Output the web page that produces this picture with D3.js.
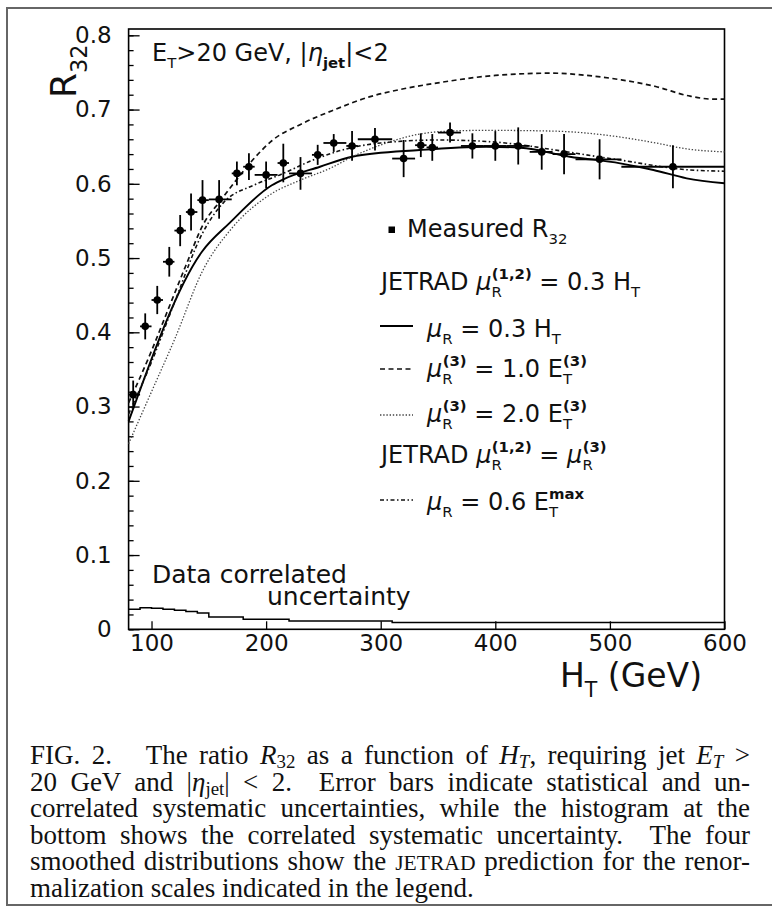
<!DOCTYPE html>
<html>
<head>
<meta charset="utf-8">
<script src="https://cdn.jsdelivr.net/npm/d3@7"></script>
<style>
  body { margin: 0; background: #fff; }
  #wrap { position: relative; width: 772px; height: 907px; }
  svg { position: absolute; left: 0; top: 0; font-family: "DejaVu Sans", sans-serif; }
  .cap { position: absolute; left: 30px; width: 720px; font-family: "Liberation Serif", serif;
         font-size: 27px; line-height: 26.6px; color: #111; text-align: justify; white-space: nowrap; }
  .cap.j { text-align-last: justify; }
  .cap sub { font-size: 0.7em; vertical-align: -0.22em; line-height: 0; }
  .cap .sc { font-size: 0.8em; }
</style>
</head>
<body>
<div id="wrap"></div>
<script>
// Measured R32 points: HT bin mean, value, error, bin edges
var ptHT  = [84, 94.5, 105, 115.5, 125, 134.5, 144.5, 159, 174.5, 185, 200, 215, 230, 245,
             259, 275, 295, 320, 335, 345, 360.5, 380, 400, 420, 440.5, 460, 491, 555];
var ptR32 = [0.316, 0.408, 0.4435, 0.495, 0.537, 0.562, 0.578, 0.579, 0.614, 0.623, 0.612, 0.628, 0.614, 0.639,
             0.655, 0.651, 0.660, 0.634, 0.652, 0.649, 0.669, 0.651, 0.651, 0.651, 0.643, 0.640, 0.633, 0.623];
var ptErr = [0.019, 0.0175, 0.019, 0.02, 0.021, 0.025, 0.027, 0.026, 0.016, 0.018, 0.018, 0.026, 0.022, 0.0135,
             0.012, 0.02, 0.015, 0.025, 0.016, 0.018, 0.0135, 0.017, 0.02, 0.025, 0.024, 0.027, 0.027, 0.029];
var ptLo  = [80, 90, 100, 110, 120, 130, 140, 150, 170, 180, 190, 210, 220, 240,
             250, 270, 280, 310, 330, 340, 350, 370, 390, 410, 430, 450, 470, 510];
var ptHi  = [90, 100, 110, 120, 130, 140, 150, 170, 180, 190, 210, 220, 240, 250,
             270, 280, 310, 330, 340, 350, 370, 390, 410, 430, 450, 470, 510, 600];

// JETRAD curves
var solidHT  = [80, 144, 168, 205, 215, 247, 275, 334, 392, 422, 465, 509, 538, 567, 600];
var solidR   = [0.28, 0.5085, 0.547, 0.598, 0.606, 0.623, 0.6365, 0.6455, 0.65, 0.6486, 0.6365, 0.6276, 0.6186, 0.6074, 0.6007];
var dash1HT  = [80, 100, 113, 130, 145, 160, 175, 190, 205, 230, 260, 290, 320, 350, 400, 450, 480, 510, 540, 570, 590, 600];
var dash1R   = [0.305, 0.375, 0.425, 0.49, 0.545, 0.577, 0.607, 0.635, 0.658, 0.68, 0.70, 0.717, 0.728, 0.736, 0.746, 0.749, 0.746, 0.740, 0.731, 0.718, 0.714, 0.714];
var dot2HT   = [80, 100, 120, 145, 170, 203, 230, 256, 276, 305, 334, 360, 392, 450, 509, 540, 567, 600];
var dot2R    = [0.25, 0.32, 0.39, 0.484, 0.54, 0.585, 0.605, 0.621, 0.637, 0.655, 0.667, 0.671, 0.672, 0.671, 0.663, 0.655, 0.647, 0.643];
var maxHT    = [80, 100, 120, 145, 163, 189, 212, 241, 270, 300, 350, 393, 420, 450, 509, 567, 600];
var maxR     = [0.29, 0.36, 0.44, 0.535, 0.575, 0.598, 0.612, 0.632, 0.647, 0.655, 0.659, 0.657, 0.653, 0.646, 0.632, 0.619, 0.617];

// correlated uncertainty histogram
var histEdges = [80, 90, 100, 110, 120, 130, 140, 150, 180, 220, 310, 600];
var histVals  = [0.027, 0.029, 0.0285, 0.027, 0.0255, 0.024, 0.022, 0.0166, 0.0135, 0.0112, 0.009];

// ticks
var yMajor = [0, 0.1, 0.2, 0.3, 0.4, 0.5, 0.6, 0.7, 0.8];
var yMinor = d3.range(0, 0.801, 0.02);
var xMajor = [100, 200, 300, 400, 500, 600];

var svgWidth = 772;
var svgHeight = 907;
var plot = { left: 128.6, right: 724.5, top: 29, bottom: 629.3 };

var svg = d3.select("#wrap").append("svg")
  .attr("width", svgWidth)
  .attr("height", svgHeight);

// outer figure border
svg.append("rect")
  .attr("x", 7).attr("y", 8)
  .attr("width", 790).attr("height", 897)
  .attr("fill", "none").attr("stroke", "#666").attr("stroke-width", 2);

var x = d3.scaleLinear().domain([80, 600]).range([plot.left, plot.right]);
var y = d3.scaleLinear().domain([0, 0.8085]).range([plot.bottom, plot.top]);

// axes, ticks inward
var yAxis = d3.axisLeft(y).tickValues(yMajor).tickSizeInner(-11).tickSizeOuter(0).tickPadding(17)
  .tickFormat(d => d === 0 ? "0" : d3.format(".1f")(d));
var yMinorAxis = d3.axisLeft(y).tickValues(yMinor).tickSizeInner(-5).tickSizeOuter(0).tickFormat("");
var xAxis = d3.axisBottom(x).tickValues(xMajor).tickSizeInner(-8).tickSizeOuter(0).tickPadding(5);

var gy = svg.append("g").attr("transform", `translate(${plot.left},0)`).call(yAxis);
svg.append("g").attr("transform", `translate(${plot.left},0)`).call(yMinorAxis);
var gx = svg.append("g").attr("transform", `translate(0,${plot.bottom})`).call(xAxis);

svg.selectAll(".domain").remove();
svg.selectAll(".tick line").attr("stroke", "#000").attr("stroke-width", 1.3);
gy.selectAll("text").attr("font-size", 23).attr("font-family", "DejaVu Sans").attr("fill", "#111");
gx.selectAll("text").attr("font-size", 23).attr("font-family", "DejaVu Sans").attr("fill", "#111");

// frame
svg.append("rect")
  .attr("x", plot.left).attr("y", plot.top)
  .attr("width", plot.right - plot.left).attr("height", plot.bottom - plot.top)
  .attr("fill", "none").attr("stroke", "#000").attr("stroke-width", 1.6);

// helper for text with sub/superscripts
function rich(parent, px, py, fs, parts) {
  var t = parent.append("text").attr("x", px).attr("y", py).attr("font-size", fs).attr("fill", "#111");
  var cur = 0;
  parts.forEach(function(p) {
    var shift = p.sub ? 0.3 * fs : p.sup ? -0.45 * fs : 0;
    var ts = t.append("tspan").text(p.t).attr("dy", shift - cur);
    cur = shift;
    if (p.sub || p.sup) ts.attr("font-size", fs * 0.62);
    if (p.it) ts.attr("font-style", "italic");
    if (p.b) ts.attr("font-weight", "bold");
    if (p.dx) ts.attr("dx", p.dx);
  });
  return t;
}

// histogram of correlated uncertainty
var histPts = histVals.map((v, i) => [histEdges[i], v]);
histPts.push([histEdges[histEdges.length - 1], histVals[histVals.length - 1]]);
svg.append("path")
  .attr("d", d3.line().x(d => x(d[0])).y(d => y(d[1])).curve(d3.curveStepAfter)(histPts))
  .attr("fill", "none").attr("stroke", "#000").attr("stroke-width", 1.5);

// JETRAD curves
var curve = d3.line().x(d => x(d[0])).y(d => y(d[1])).curve(d3.curveMonotoneX);
var curves = [
  { ht: solidHT, r: solidR, dash: null, w: 1.9, c: "#000" },
  { ht: dash1HT, r: dash1R, dash: "5,3.5", w: 1.7, c: "#111" },
  { ht: dot2HT, r: dot2R, dash: "1.4,1.8", w: 1.3, c: "#444" },
  { ht: maxHT, r: maxR, dash: "4,2.5,1.5,2.5", w: 1.6, c: "#111" }
];
curves.forEach(function(cv) {
  svg.append("path")
    .attr("d", curve(cv.ht.map((h, i) => [h, cv.r[i]])))
    .attr("fill", "none").attr("stroke", cv.c).attr("stroke-width", cv.w)
    .attr("stroke-dasharray", cv.dash);
});

// measured points with error bars
var pts = ptHT.map((h, i) => ({ ht: h, r: ptR32[i], e: ptErr[i], lo: ptLo[i], hi: ptHi[i] }));
var pg = svg.append("g").attr("stroke", "#000").attr("stroke-width", 1.8);
pg.selectAll(".ev").data(pts).enter().append("line")
  .attr("x1", d => x(d.ht)).attr("x2", d => x(d.ht))
  .attr("y1", d => y(d.r - d.e)).attr("y2", d => y(d.r + d.e));
pg.selectAll(".eh").data(pts).enter().append("line")
  .attr("x1", d => x(d.lo)).attr("x2", d => x(d.hi))
  .attr("y1", d => y(d.r)).attr("y2", d => y(d.r));
svg.selectAll(".pt").data(pts).enter().append("circle")
  .attr("cx", d => x(d.ht)).attr("cy", d => y(d.r)).attr("r", 3.8).attr("fill", "#000");

// labels
rich(svg, 152, 61, 24, [{ t: "E" }, { t: "T", sub: true }, { t: ">20 GeV, |" }, { t: "η", it: true },
  { t: "jet", sub: true, b: true }, { t: "|<2" }]);
rich(svg, 152, 583, 25, [{ t: "Data correlated" }]);
rich(svg, 267, 605, 25, [{ t: "uncertainty" }]);
rich(svg, 560, 687, 33, [{ t: "H" }, { t: "T", sub: true }, { t: " (GeV)" }]);
var ylab = svg.append("g").attr("transform", "translate(76,98) rotate(-90)");
rich(ylab, 0, 0, 36, [{ t: "R" }, { t: "32", sub: true }]);

// legend
var lg = svg.append("g");
lg.append("rect").attr("x", 388.5).attr("y", 226.5).attr("width", 6.5).attr("height", 6.5).attr("fill", "#000");
rich(lg, 407, 237, 24, [{ t: "Measured R" }, { t: "32", sub: true }]);
rich(lg, 381, 290, 24, [{ t: "JETRAD " }, { t: "μ", it: true }, { t: "R", sub: true },
  { t: "(1,2)", sup: true, b: true, dx: -10 }, { t: " = 0.3 H" }, { t: "T", sub: true }]);
var legLines = [
  { y: 326, dash: null, w: 1.9, c: "#000", base: 337,
    parts: [{ t: "μ", it: true }, { t: "R", sub: true }, { t: " = 0.3 H" }, { t: "T", sub: true }] },
  { y: 369, dash: "5,3.5", w: 1.7, c: "#111", base: 377,
    parts: [{ t: "μ", it: true }, { t: "R", sub: true }, { t: "(3)", sup: true, b: true, dx: -10 },
            { t: " = 1.0 E" }, { t: "T", sub: true }, { t: "(3)", sup: true, b: true, dx: -9 }] },
  { y: 415, dash: "1.4,1.8", w: 1.3, c: "#444", base: 422,
    parts: [{ t: "μ", it: true }, { t: "R", sub: true }, { t: "(3)", sup: true, b: true, dx: -10 },
            { t: " = 2.0 E" }, { t: "T", sub: true }, { t: "(3)", sup: true, b: true, dx: -9 }] },
  { y: 500, dash: "4,2.5,1.5,2.5", w: 1.6, c: "#111", base: 510,
    parts: [{ t: "μ", it: true }, { t: "R", sub: true }, { t: " = 0.6 E" }, { t: "T", sub: true },
            { t: "max", sup: true, b: true, dx: -9 }] }
];
legLines.forEach(function(l) {
  lg.append("line").attr("x1", 380).attr("x2", 413).attr("y1", l.y).attr("y2", l.y)
    .attr("stroke", l.c).attr("stroke-width", l.w).attr("stroke-dasharray", l.dash);
  rich(lg, 427, l.base, 24, l.parts);
});
rich(lg, 381, 463, 24, [{ t: "JETRAD " }, { t: "μ", it: true }, { t: "R", sub: true },
  { t: "(1,2)", sup: true, b: true, dx: -10 }, { t: " = " }, { t: "μ", it: true }, { t: "R", sub: true },
  { t: "(3)", sup: true, b: true, dx: -10 }]);

// caption
var capLines = [
  { j: true, h: 'FIG. 2.&nbsp;&nbsp; The ratio <i>R</i><sub>32</sub> as a function of <i>H<sub>T</sub></i>, requiring jet <i>E<sub>T</sub></i> &gt;' },
  { j: true, h: '20 GeV and |<i>η</i><sub>jet</sub>| &lt; 2.&nbsp; Error bars indicate statistical and un-' },
  { j: true, h: 'correlated systematic uncertainties, while the histogram at the' },
  { j: true, h: 'bottom shows the correlated systematic uncertainty.&nbsp; The four' },
  { j: true, h: 'smoothed distributions show the <span class="sc">JETRAD</span> prediction for the renor-' },
  { j: false, h: 'malization scales indicated in the legend.' }
];
d3.select("#wrap").selectAll("div.cap").data(capLines).enter().append("div")
  .attr("class", d => d.j ? "cap j" : "cap")
  .style("top", (d, i) => (742 + i * 26.6) + "px")
  .html(d => d.h);
</script>
</body>
</html>
